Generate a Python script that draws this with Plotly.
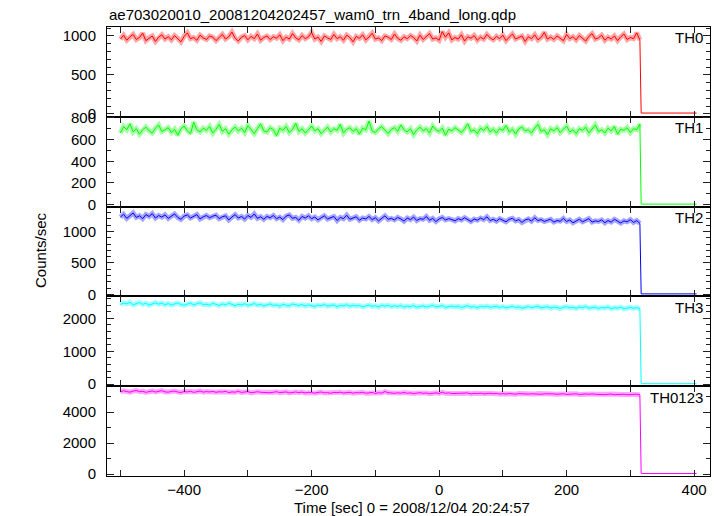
import plotly.graph_objects as go

# ---------------- data ----------------
t_on = list(range(-500, 316, 5))   # 5 s bins, -500 .. 315 (164 bins)
t_off = [317, 404]

th0 = [960, 1010, 945, 990, 1020, 955, 980, 1035, 940, 975, 1000, 930, 985, 1015, 960,
       990, 950, 1005, 970, 925, 995, 1040, 965, 980, 945, 1010, 975, 955, 1000, 985,
       940, 975, 1020, 960, 990, 1050, 970, 935, 985, 1005, 950, 995, 965, 1025, 945,
       980, 1000, 955, 990, 970, 1015, 940, 985, 960, 1030, 975, 950, 1005, 965, 990,
       1045, 960, 985, 930, 1000, 975, 955, 1020, 965, 990, 945, 1010, 980, 925, 995,
       970, 1015, 950, 985, 1035, 960, 975, 940, 1000, 985, 955, 1025, 970, 945, 990,
       965, 1005, 980, 935, 1010, 955, 990, 1030, 960, 975, 945, 1055, 985, 1040, 950,
       980, 960, 1015, 935, 990, 970, 1005, 945, 985, 960, 1020, 975, 950, 995, 965,
       1010, 940, 985, 1025, 960, 975, 1000, 930, 990, 965, 1015, 950, 980, 1045, 960,
       985, 955, 1000, 970, 940, 1020, 965, 990, 950, 1005, 975, 935, 995, 1030, 960,
       975, 1010, 945, 985, 960, 1000, 940, 990, 1025, 955, 980, 965, 1040, 950]
th1 = [660, 720, 690, 745, 670, 700, 650, 690, 715, 680, 660, 705, 735, 675, 690,
       710, 665, 695, 640, 700, 725, 680, 655, 760, 690, 670, 705, 685, 720, 660,
       695, 740, 675, 700, 650, 690, 715, 680, 705, 665, 730, 690, 655, 700, 745,
       680, 670, 710, 690, 635, 705, 685, 720, 665, 695, 750, 675, 700, 660, 690,
       725, 680, 700, 655, 690, 715, 670, 700, 685, 740, 660, 695, 710, 675, 700,
       650, 705, 690, 770, 680, 665, 700, 720, 685, 655, 695, 710, 675, 735, 690,
       670, 700, 645, 690, 715, 680, 700, 660, 725, 690, 675, 705, 640, 695, 680,
       710, 690, 665, 700, 745, 675, 690, 655, 705, 685, 720, 670, 695, 660, 700,
       685, 730, 670, 695, 650, 700, 715, 680, 690, 660, 705, 740, 675, 690, 645,
       700, 680, 710, 665, 695, 725, 670, 690, 655, 700, 685, 715, 660, 695, 735,
       675, 690, 660, 705, 680, 720, 650, 695, 685, 710, 665, 700, 690, 745]
th2 = [1230, 1275, 1210, 1260, 1295, 1225, 1250, 1205, 1270, 1240, 1285, 1215, 1255, 1230, 1265,
       1210, 1250, 1280, 1225, 1195, 1245, 1265, 1215, 1240, 1270, 1200, 1235, 1255, 1220, 1245,
       1260, 1205, 1235, 1250, 1185, 1230, 1270, 1215, 1240, 1200, 1255, 1225, 1280, 1210, 1235,
       1195, 1240, 1220, 1255, 1205, 1230, 1190, 1245, 1265, 1210, 1225, 1180, 1240, 1215, 1250,
       1205, 1230, 1185, 1220, 1250, 1200, 1215, 1240, 1175, 1225, 1205, 1260, 1195, 1215, 1235,
       1180, 1215, 1200, 1240, 1190, 1220, 1170, 1205, 1250, 1195, 1210, 1185, 1225, 1200, 1165,
       1215, 1190, 1230, 1175, 1205, 1195, 1240, 1180, 1210, 1160, 1200, 1225, 1185, 1205, 1190,
       1170, 1205, 1185, 1220, 1195, 1160, 1200, 1180, 1215, 1190, 1235, 1175, 1195, 1165, 1205,
       1180, 1155, 1195, 1210, 1170, 1190, 1145, 1185, 1200, 1165, 1220, 1175, 1190, 1160, 1180,
       1195, 1150, 1175, 1165, 1210, 1160, 1185, 1140, 1170, 1195, 1155, 1180, 1205, 1150, 1170,
       1160, 1185, 1140, 1175, 1150, 1195, 1165, 1135, 1170, 1155, 1190, 1145, 1175, 1130]
th3 = [2420, 2470, 2440, 2490, 2410, 2455, 2480, 2425, 2460, 2400, 2445, 2475, 2430, 2465, 2415,
       2450, 2405, 2440, 2470, 2420, 2395, 2435, 2460, 2410, 2445, 2475, 2415, 2430, 2400, 2455,
       2425, 2390, 2440, 2410, 2460, 2420, 2385, 2430, 2405, 2445, 2395, 2415, 2450, 2400, 2425,
       2380, 2415, 2440, 2395, 2410, 2365, 2425, 2400, 2380, 2435, 2405, 2390, 2420, 2375, 2410,
       2395, 2360, 2405, 2385, 2420, 2370, 2390, 2410, 2355, 2395, 2380, 2415, 2365, 2400, 2375,
       2390, 2350, 2380, 2405, 2365, 2385, 2345, 2395, 2370, 2400, 2355, 2380, 2360, 2390, 2340,
       2375, 2355, 2390, 2340, 2365, 2380, 2345, 2370, 2395, 2350, 2360, 2385, 2335, 2365, 2375,
       2345, 2370, 2330, 2360, 2385, 2340, 2355, 2325, 2365, 2350, 2375, 2335, 2355, 2370, 2330,
       2355, 2320, 2345, 2365, 2330, 2350, 2310, 2340, 2360, 2325, 2345, 2370, 2320, 2340, 2355,
       2315, 2345, 2330, 2300, 2340, 2355, 2320, 2335, 2305, 2345, 2325, 2360, 2310, 2330, 2340,
       2300, 2330, 2315, 2345, 2295, 2325, 2310, 2340, 2290, 2320, 2335, 2305, 2325, 2295]
th0123 = [5310, 5380, 5330, 5290, 5360, 5400, 5320, 5350, 5280, 5340, 5370, 5300, 5330, 5390, 5310,
          5290, 5340, 5360, 5300, 5270, 5330, 5310, 5350, 5280, 5320, 5370, 5295, 5330, 5305, 5345,
          5280, 5320, 5300, 5350, 5260, 5310, 5290, 5340, 5275, 5305, 5330, 5250, 5300, 5320, 5285,
          5270, 5300, 5250, 5290, 5320, 5260, 5285, 5310, 5240, 5280, 5300, 5265, 5295, 5240, 5280,
          5260, 5230, 5275, 5300, 5245, 5265, 5220, 5280, 5255, 5290, 5235, 5260, 5280, 5225, 5265,
          5250, 5280, 5225, 5245, 5270, 5210, 5255, 5235, 5330, 5260, 5240, 5215, 5250, 5230, 5265,
          5220, 5245, 5200, 5230, 5255, 5215, 5240, 5190, 5225, 5250, 5205, 5290, 5215, 5245, 5200,
          5210, 5185, 5225, 5200, 5240, 5175, 5215, 5195, 5230, 5180, 5205, 5220, 5190, 5210, 5170,
          5195, 5170, 5205, 5180, 5160, 5200, 5185, 5215, 5165, 5190, 5175, 5200, 5155, 5185, 5195,
          5165, 5180, 5150, 5175, 5190, 5145, 5170, 5160, 5185, 5140, 5165, 5175, 5150, 5180, 5155,
          5140, 5165, 5130, 5155, 5170, 5125, 5150, 5140, 5160, 5120, 5145, 5135, 5160, 5125]

th0_off = [10, 10]
th1_off = [5, 5]
th2_off = [8, 8]
th3_off = [15, 15]
th0123_off = [30, 30]

names = ["TH0", "TH1", "TH2", "TH3", "TH0123"]
y_ranges = [(-38, 1115), (-18, 810), (-32, 1397), (-61, 2667), (-129, 5677)]
y_dticks = [500, 200, 500, 1000, 2000]
y_minor = [100, 100, 100, 200, 1000]
colors = ["#ff0000", "#00ff00", "#0000ff", "#00ffff", "#ff00ff"]
bands = ["rgba(255,0,0,0.35)", "rgba(0,255,0,0.35)", "rgba(0,0,255,0.35)",
         "rgba(0,255,255,0.35)", "rgba(255,0,255,0.35)"]

on_series = [th0, th1, th2, th3, th0123]
off_series = [th0_off, th1_off, th2_off, th3_off, th0123_off]

# ---------------- figure ----------------
W, H = 720, 516
L, R, T, B = 107, 10, 27, 40
pw, ph = W - L - R, H - T - B

fig = go.Figure()
FONT = "Liberation Sans, Arial, Helvetica, sans-serif"

for i in range(5):
    k = "" if i == 0 else str(i + 1)
    fig.add_trace(go.Scatter(x=t_on, y=on_series[i], xaxis="x" + k, yaxis="y" + k,
                             mode="lines", line=dict(color=bands[i], width=5),
                             hoverinfo="skip", showlegend=False))
    fig.add_trace(go.Scatter(x=t_on + t_off, y=on_series[i] + off_series[i],
                             xaxis="x" + k, yaxis="y" + k, mode="lines",
                             line=dict(color=colors[i], width=1), name=names[i],
                             showlegend=False))

layout = dict(
    width=W, height=H,
    margin=dict(l=L, r=R, t=T, b=B),
    paper_bgcolor="white", plot_bgcolor="white",
    font=dict(family=FONT, size=15, color="black"),
    showlegend=False,
)

for i in range(5):
    k = "" if i == 0 else str(i + 1)
    dom = [1 - (i + 1) * 0.2, 1 - i * 0.2]
    layout["xaxis" + k] = dict(
        domain=[0, 1], anchor="y" + k, range=[-521, 425],
        tick0=0, dtick=200, ticks="inside", ticklen=6, tickcolor="#222",
        minor=dict(dtick=100, ticks="inside", ticklen=6, tickcolor="#222"),
        showline=True, linecolor="black", linewidth=1, mirror="ticks",
        showgrid=False, zeroline=False,
        showticklabels=(i == 4), ticklabelstandoff=0,
        matches=None if i == 0 else "x",
    )
    layout["yaxis" + k] = dict(
        domain=dom, anchor="x" + k, range=list(y_ranges[i]),
        tick0=0, dtick=y_dticks[i], ticks="inside", ticklen=7, tickcolor="#222",
        minor=dict(dtick=y_minor[i], ticks="inside", ticklen=4, tickcolor="#222"),
        showline=True, linecolor="black", linewidth=1, mirror="ticks",
        showgrid=False, zeroline=False, ticklabelstandoff=7,
    )

ann = []
label_y_px = [37, 127.5, 217, 307, 397]
for i in range(5):
    ann.append(dict(text=names[i], xref="paper", yref="paper",
                    x=(705 - L) / pw, y=(H - B - label_y_px[i]) / ph,
                    xanchor="right", yanchor="middle", showarrow=False,
                    font=dict(size=15)))
ann.append(dict(text="ae703020010_20081204202457_wam0_trn_4band_long.qdp",
                xref="paper", yref="paper", x=0, y=(H - B - 14) / ph,
                xanchor="left", yanchor="middle", showarrow=False,
                font=dict(size=15)))
ann.append(dict(text="Counts/sec", xref="paper", yref="paper",
                x=(41 - L) / pw, y=(H - B - 250) / ph, textangle=-90,
                xanchor="center", yanchor="middle", showarrow=False,
                font=dict(size=15)))
ann.append(dict(text="Time [sec] 0 = 2008/12/04 20:24:57", xref="paper", yref="paper",
                x=(412 - L) / pw, y=(H - B - 507) / ph,
                xanchor="center", yanchor="middle", showarrow=False,
                font=dict(size=15)))
layout["annotations"] = ann

fig.update_layout(**layout)
fig.write_html("out.html", config={"displayModeBar": False},
               post_script="document.body.style.margin='0';document.body.style.overflow='hidden';")
